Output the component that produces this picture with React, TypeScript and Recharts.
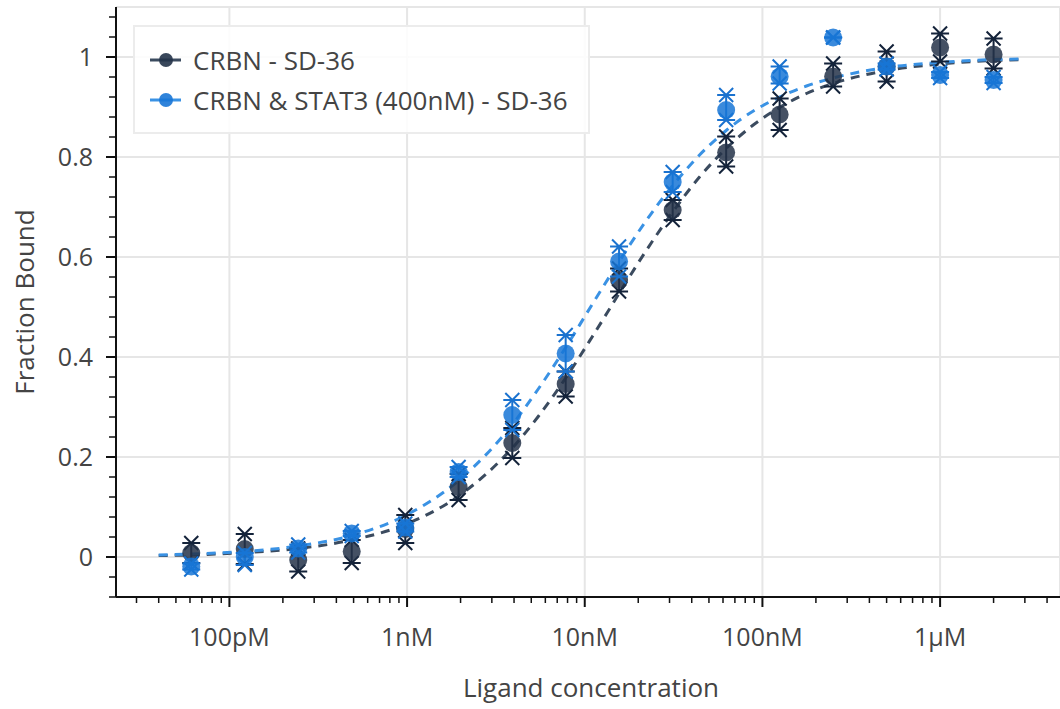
import React from 'react';
import { ComposedChart, Line, Scatter, XAxis, YAxis, CartesianGrid } from 'recharts';

// ligand concentration (M), 2-fold dilution series
const conc = [6.1e-11, 1.22e-10, 2.44e-10, 4.88e-10, 9.77e-10, 1.95e-9, 3.91e-9, 7.81e-9, 1.56e-8, 3.125e-8, 6.25e-8, 1.25e-7, 2.5e-7, 5e-7, 1e-6, 2e-6];

// CRBN - SD-36 : mean and the two replicate values
const crbnMean = [0.008, 0.016, -0.006, 0.011, 0.056, 0.14, 0.228, 0.346, 0.554, 0.694, 0.809, 0.885, 0.961, 0.981, 1.019, 1.005];
const crbnLow = [-0.012, -0.014, -0.029, -0.012, 0.028, 0.114, 0.198, 0.321, 0.531, 0.674, 0.781, 0.854, 0.941, 0.951, 0.991, 0.977];
const crbnHigh = [0.028, 0.046, 0.017, 0.034, 0.084, 0.166, 0.258, 0.371, 0.577, 0.714, 0.841, 0.917, 0.987, 1.011, 1.047, 1.037];

// CRBN & STAT3 (400nM) - SD-36
const stat3Mean = [-0.019, 0.0, 0.017, 0.047, 0.059, 0.17, 0.284, 0.407, 0.591, 0.75, 0.894, 0.961, 1.039, 0.981, 0.964, 0.954];
const stat3Low = [-0.025, -0.016, 0.009, 0.042, 0.051, 0.16, 0.254, 0.371, 0.561, 0.73, 0.874, 0.947, 1.039, 0.975, 0.958, 0.948];
const stat3High = [-0.013, 0.008, 0.025, 0.052, 0.067, 0.18, 0.314, 0.444, 0.621, 0.77, 0.924, 0.981, 1.039, 0.987, 0.97, 0.96];

// fitted curves
const fitConc = [4e-11, 6.1e-11, 1.22e-10, 2.44e-10, 4.88e-10, 9.77e-10, 1.95e-9, 3.91e-9, 5.5e-9, 7.81e-9, 1.1e-8, 1.56e-8, 2.2e-8, 3.125e-8, 4.4e-8, 6.25e-8, 8.8e-8, 1.25e-7, 1.77e-7, 2.5e-7, 5e-7, 1e-6, 2e-6, 3e-6];
const crbnFit = [0.003, 0.004, 0.009, 0.017, 0.034, 0.065, 0.122, 0.218, 0.282, 0.358, 0.44, 0.527, 0.611, 0.69, 0.759, 0.817, 0.863, 0.899, 0.927, 0.947, 0.973, 0.986, 0.993, 0.995];
const stat3Fit = [0.004, 0.006, 0.011, 0.022, 0.043, 0.083, 0.153, 0.265, 0.337, 0.419, 0.505, 0.591, 0.671, 0.743, 0.803, 0.853, 0.891, 0.92, 0.942, 0.958, 0.979, 0.989, 0.995, 0.996];

const xMajor = [1e-10, 1e-9, 1e-8, 1e-7, 1e-6];
const xLabels = ['100pM', '1nM', '10nM', '100nM', '1µM'];
const yMajor = [0, 0.2, 0.4, 0.6, 0.8, 1];

const X_DOMAIN = [2.3e-11, 4.73e-6];
const Y_DOMAIN = [-0.08, 1.1];

const xMinor: number[] = [];
[1e-11, 1e-10, 1e-9, 1e-8, 1e-7, 1e-6].forEach((d) => {
  for (let m = 1; m < 10; m++) {
    const v = m * d;
    if (v >= X_DOMAIN[0] && v <= X_DOMAIN[1]) xMinor.push(v);
  }
});
const yTicks = Array.from({ length: 30 }, (_, i) => +(-0.08 + i * 0.04).toFixed(2));

const FONT = '"Open Sans", sans-serif';
const TEXT = '#444';

const DARK = { line: '#3b4b5f', fill: '#243349', err: '#14233a' };
const BLUE = { line: '#3a92e4', fill: '#1876d6', err: '#1a72cf' };

const means = (m: number[]) => conc.map((x, i) => ({ x, y: m[i] }));
const reps = (lo: number[], hi: number[]) =>
  conc.flatMap((x, i) => [{ x, y: lo[i] }, { x, y: hi[i] }]);
// vertical stems low -> high, broken by a null between points
const stems = (lo: number[], hi: number[]) =>
  conc.flatMap((x, i) => [{ x, y: lo[i] }, { x, y: hi[i] }, { x, y: null }]);
const fit = (ys: number[]) => fitConc.map((x, i) => ({ x, y: ys[i] }));

const circle = (color: string) => (p: any) =>
  <circle cx={p.cx} cy={p.cy} r={9} fill={color} fillOpacity={0.85} />;
// replicate marker: x with the error-bar cap through it
const cross = (color: string) => (p: any) => (
  <path
    d={`M${p.cx - 7},${p.cy - 7}L${p.cx + 7},${p.cy + 7}M${p.cx - 7},${p.cy + 7}L${p.cx + 7},${p.cy - 7}M${p.cx - 9},${p.cy}L${p.cx + 9},${p.cy}`}
    stroke={color} strokeWidth={2} fill="none"
  />
);

const XTick = (p: any) => {
  const v = p.payload.value;
  const idx = xMajor.findIndex((m) => Math.abs(m - v) / m < 1e-6);
  const major = idx >= 0;
  return (
    <g>
      <line x1={p.x} x2={p.x} y1={p.y} y2={p.y + (major ? 10 : 6)} stroke="#111" strokeWidth={major ? 2 : 1.5} />
      {major && (
        <text x={p.x} y={p.y + 49} textAnchor="middle" fill={TEXT} fontSize={25} fontFamily={FONT}>{xLabels[idx]}</text>
      )}
    </g>
  );
};

const YTick = (p: any) => {
  const v = p.payload.value;
  const major = yMajor.some((m) => Math.abs(m - v) < 1e-6);
  return (
    <g>
      <line x1={p.x - (major ? 10 : 7)} x2={p.x} y1={p.y} y2={p.y} stroke="#111" strokeWidth={major ? 2 : 1.5} />
      {major && (
        <text x={p.x - 23} y={p.y + 9} textAnchor="end" fill={TEXT} fontSize={25} fontFamily={FONT}>{String(v)}</text>
      )}
    </g>
  );
};

const LegendRow = ({ top, color, fill, label }: { top: number; color: string; fill: string; label: string }) => (
  <div style={{ position: 'absolute', left: 15, top, height: 36, display: 'flex', alignItems: 'center' }}>
    <svg width={32} height={36} style={{ marginRight: 11 }}>
      <line x1={0} x2={31} y1={18} y2={18} stroke={color} strokeWidth={3} />
      <circle cx={16} cy={18} r={7} fill={fill} fillOpacity={0.9} />
    </svg>
    <span style={{ fontSize: 26, color: TEXT, fontFamily: FONT, whiteSpace: 'nowrap' }}>{label}</span>
  </div>
);

export default function App() {
  return (
    <div style={{ position: 'absolute', left: 0, top: 0, width: 1060, height: 709, background: '#fff' }}>
      <ComposedChart width={1060} height={709} margin={{ top: 7, right: 0, bottom: 0, left: 0 }}>
        <CartesianGrid xAxisId="g" yAxisId="g" stroke="#e6e6e6" strokeWidth={2} />
        <XAxis xAxisId="g" hide type="number" scale="log" dataKey="x" domain={X_DOMAIN} allowDataOverflow ticks={xMajor} />
        <YAxis yAxisId="g" hide type="number" domain={Y_DOMAIN} allowDataOverflow ticks={yMajor} />
        <XAxis
          type="number" scale="log" dataKey="x" domain={X_DOMAIN} allowDataOverflow
          ticks={xMinor} interval={0} height={112} tickSize={0} tickMargin={0} tickLine={false}
          tick={<XTick />} axisLine={{ stroke: '#111', strokeWidth: 2 }}
          label={{
            content: (lp: any) => {
              const vb = lp.viewBox;
              return (
                <text x={vb.x + vb.width / 2 + 3} y={697} textAnchor="middle" fill={TEXT} fontSize={26} fontFamily={FONT}>Ligand concentration</text>
              );
            },
          }}
        />
        <YAxis
          type="number" domain={Y_DOMAIN} allowDataOverflow ticks={yTicks} interval={0}
          width={116} tickSize={0} tickMargin={0} tickLine={false} tick={<YTick />}
          axisLine={{ stroke: '#111', strokeWidth: 2 }}
          label={{
            content: (lp: any) => {
              const vb = lp.viewBox;
              const cx = vb.x + 24;
              const cy = vb.y + vb.height / 2;
              return (
                <text x={cx} y={cy} transform={`rotate(-90 ${cx} ${cy})`} textAnchor="middle" dominantBaseline="central" fill={TEXT} fontSize={26} fontFamily={FONT}>Fraction Bound</text>
              );
            },
          }}
        />

        <Line data={fit(crbnFit)} dataKey="y" type="monotone" stroke={DARK.line} strokeWidth={3} strokeDasharray="9 7" dot={false} isAnimationActive={false} />
        <Line data={fit(stat3Fit)} dataKey="y" type="monotone" stroke={BLUE.line} strokeWidth={3} strokeDasharray="9 7" dot={false} isAnimationActive={false} />

        <Line data={stems(crbnLow, crbnHigh)} dataKey="y" type="linear" stroke={DARK.err} strokeWidth={2} dot={false} activeDot={false} isAnimationActive={false} />
        <Scatter data={reps(crbnLow, crbnHigh)} dataKey="y" shape={cross(DARK.err)} isAnimationActive={false} />
        <Scatter data={means(crbnMean)} dataKey="y" shape={circle(DARK.fill)} isAnimationActive={false} />

        <Line data={stems(stat3Low, stat3High)} dataKey="y" type="linear" stroke={BLUE.err} strokeWidth={2} dot={false} activeDot={false} isAnimationActive={false} />
        <Scatter data={reps(stat3Low, stat3High)} dataKey="y" shape={cross(BLUE.err)} isAnimationActive={false} />
        <Scatter data={means(stat3Mean)} dataKey="y" shape={circle(BLUE.fill)} isAnimationActive={false} />
      </ComposedChart>

      <div
        style={{
          position: 'absolute', left: 133, top: 25, width: 457, height: 109, boxSizing: 'border-box',
          background: 'rgba(255,255,255,0.85)', border: '2px solid #ececec',
        }}
      >
        <LegendRow top={15} color={DARK.line} fill={DARK.fill} label="CRBN - SD-36" />
        <LegendRow top={55} color={BLUE.line} fill={BLUE.fill} label="CRBN & STAT3 (400nM) - SD-36" />
      </div>
    </div>
  );
}
